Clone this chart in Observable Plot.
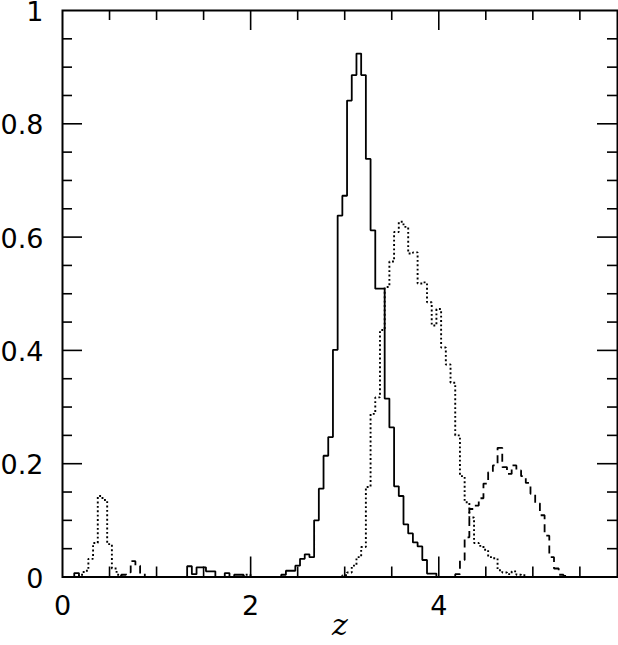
<!DOCTYPE html>
<html>
<head>
<meta charset="utf-8">
<script src="https://cdn.jsdelivr.net/npm/d3@7"></script>
<script src="https://cdn.jsdelivr.net/npm/@observablehq/plot@0.6"></script>
<style>
  html, body { margin: 0; padding: 0; background: white; }
</style>
</head>
<body>
<div id="chart"></div>
<script>
// ---- data (bin centres in z, bin width 0.05) ----
const binWidth = 0.05;

const solidZ = [0.15,
  1.35, 1.40, 1.45, 1.50, 1.55, 1.60,
  1.75,
  1.85, 1.90,
  2.35, 2.40, 2.45, 2.50, 2.55, 2.60, 2.65, 2.70, 2.75, 2.80, 2.85, 2.90, 2.95,
  3.00, 3.05, 3.10, 3.15, 3.20, 3.25, 3.30, 3.35, 3.40, 3.45, 3.50, 3.55, 3.60,
  3.65, 3.70, 3.75, 3.80, 3.85, 3.90, 3.95];
const solidV = [0.007,
  0.019, 0.005, 0.017, 0.017, 0.010, 0.010,
  0.007,
  0.004, 0.004,
  0.004, 0.011, 0.011, 0.020, 0.032, 0.040, 0.035, 0.100, 0.156, 0.214, 0.247, 0.401, 0.638,
  0.673, 0.841, 0.886, 0.924, 0.886, 0.738, 0.612, 0.509, 0.509, 0.315, 0.264, 0.160, 0.143,
  0.093, 0.077, 0.061, 0.054, 0.030, 0.006, 0.006];

const dottedZ = [0.20, 0.25, 0.30, 0.35, 0.40, 0.45, 0.50, 0.55, 0.60,
  1.95, 2.00,
  3.00, 3.05, 3.10, 3.15, 3.20, 3.25, 3.30, 3.35, 3.40, 3.45, 3.50, 3.55, 3.60,
  3.65, 3.70, 3.75, 3.80, 3.85, 3.90, 3.95, 4.00, 4.05, 4.10, 4.15, 4.20, 4.25,
  4.30, 4.35, 4.40, 4.45, 4.50, 4.55, 4.60, 4.65, 4.70, 4.75, 4.80, 4.85, 4.90];
const dottedV = [0.004, 0.011, 0.032, 0.060, 0.143, 0.136, 0.058, 0.015, 0.004,
  0.004, 0.003,
  0.003, 0.008, 0.020, 0.035, 0.053, 0.159, 0.288, 0.317, 0.436, 0.512, 0.557, 0.609, 0.627,
  0.618, 0.571, 0.573, 0.518, 0.520, 0.485, 0.444, 0.473, 0.405, 0.375, 0.343, 0.250, 0.178,
  0.132, 0.105, 0.060, 0.055, 0.048, 0.035, 0.033, 0.012, 0.008, 0.005, 0.010, 0.004, 0.003];

const dashedZ = [0.65, 0.70, 0.75, 0.80, 0.85,
  4.20, 4.25, 4.30, 4.35, 4.40, 4.45, 4.50, 4.55, 4.60, 4.65, 4.70, 4.75, 4.80,
  4.85, 4.90, 4.95, 5.00, 5.05, 5.10, 5.15, 5.20, 5.25, 5.30, 5.35];
const dashedV = [0.004, 0.008, 0.028, 0.020, 0.006,
  0.005, 0.030, 0.070, 0.120, 0.126, 0.139, 0.165, 0.185, 0.197, 0.228, 0.194, 0.182, 0.197,
  0.188, 0.178, 0.166, 0.147, 0.130, 0.109, 0.073, 0.035, 0.015, 0.004, 0.002];

// ---- axis ticks ----
const xDomain = [0, 5.9];
const yDomain = [0, 1];
const xTickLabels = [0, 2, 4];
const xMajor = [2, 4];
const xMinor = [0.5, 1, 1.5, 2.5, 3, 3.5, 4.5, 5, 5.5];
const yTickLabels = [0, 0.2, 0.4, 0.6, 0.8, 1];
const yMajor = [0.2, 0.4, 0.6, 0.8];
const yMinor = [0.05, 0.1, 0.15, 0.25, 0.3, 0.35, 0.45, 0.5, 0.55, 0.65, 0.7, 0.75, 0.85, 0.9, 0.95];

// ---- build step outlines from the bins ----
function steps(zs, vs, w) {
  const pts = [];
  let seg = 0;
  for (let i = 0; i < zs.length; i++) {
    const c = zs[i], l = c - w / 2, r = c + w / 2, v = vs[i];
    const prevAdj = i > 0 && Math.abs(zs[i - 1] + w - c) < 1e-6;
    const nextAdj = i < zs.length - 1 && Math.abs(c + w - zs[i + 1]) < 1e-6;
    if (!prevAdj) { seg++; pts.push({x: l, y: 0, s: seg}); }
    pts.push({x: l, y: v, s: seg}, {x: r, y: v, s: seg});
    if (!nextAdj) pts.push({x: r, y: 0, s: seg});
  }
  return pts;
}

const W = 618, H = 645;
const mL = 62, mR = 1, mT = 10, mB = 68.5;
const innerH = H - mT - mB;
const innerW = W - mL - mR;
const minorLen = 10, majorLen = 20;
const font = "DejaVu Sans";

const chart = Plot.plot({
  width: W,
  height: H,
  marginLeft: mL,
  marginRight: mR,
  marginTop: mT,
  marginBottom: mB,
  style: {background: "white", fontFamily: font, color: "black", overflow: "visible"},
  x: {domain: xDomain},
  y: {domain: yDomain},
  marks: [
    Plot.line(steps(dottedZ, dottedV, binWidth), {x: "x", y: "y", z: "s", stroke: "black", strokeWidth: 1.9, strokeDasharray: "1.9,2.5", strokeLinecap: "butt", strokeLinejoin: "miter"}),
    Plot.line(steps(dashedZ, dashedV, binWidth), {x: "x", y: "y", z: "s", stroke: "black", strokeWidth: 1.8, strokeDasharray: "8,5", strokeLinecap: "butt", strokeLinejoin: "miter"}),
    Plot.line(steps(solidZ, solidV, binWidth), {x: "x", y: "y", z: "s", stroke: "black", strokeWidth: 1.8, strokeLinejoin: "miter"}),
    // inward ticks: bottom and top
    Plot.ruleX(xMinor, {x: d => d, insetTop: innerH - minorLen, stroke: "black", strokeWidth: 1.6}),
    Plot.ruleX(xMajor, {x: d => d, insetTop: innerH - majorLen, stroke: "black", strokeWidth: 1.6}),
    Plot.ruleX(xMinor, {x: d => d, insetBottom: innerH - minorLen, stroke: "black", strokeWidth: 1.6}),
    Plot.ruleX(xMajor, {x: d => d, insetBottom: innerH - majorLen, stroke: "black", strokeWidth: 1.6}),
    // inward ticks: left and right
    Plot.ruleY(yMinor, {y: d => d, insetRight: innerW - minorLen, stroke: "black", strokeWidth: 1.6}),
    Plot.ruleY(yMajor, {y: d => d, insetRight: innerW - majorLen, stroke: "black", strokeWidth: 1.6}),
    Plot.ruleY(yMinor, {y: d => d, insetLeft: innerW - minorLen, stroke: "black", strokeWidth: 1.6}),
    Plot.ruleY(yMajor, {y: d => d, insetLeft: innerW - majorLen, stroke: "black", strokeWidth: 1.6}),
    Plot.frame({stroke: "black", strokeWidth: 2}),
    Plot.axisX(xTickLabels, {anchor: "bottom", tickSize: 0, tickPadding: 19, fontSize: 27, fontFamily: font, tickFormat: d => String(d), label: null}),
    Plot.axisY(yTickLabels, {anchor: "left", tickSize: 0, tickPadding: 19, fontSize: 27, fontFamily: font, tickFormat: d => String(d), label: null, dy: 2}),
    Plot.text(["z"], {frameAnchor: "bottom", dy: 58, fontSize: 30, fontStyle: "italic", fontFamily: "DejaVu Serif", text: d => d})
  ]
});
document.getElementById("chart").appendChild(chart);
</script>
</body>
</html>
